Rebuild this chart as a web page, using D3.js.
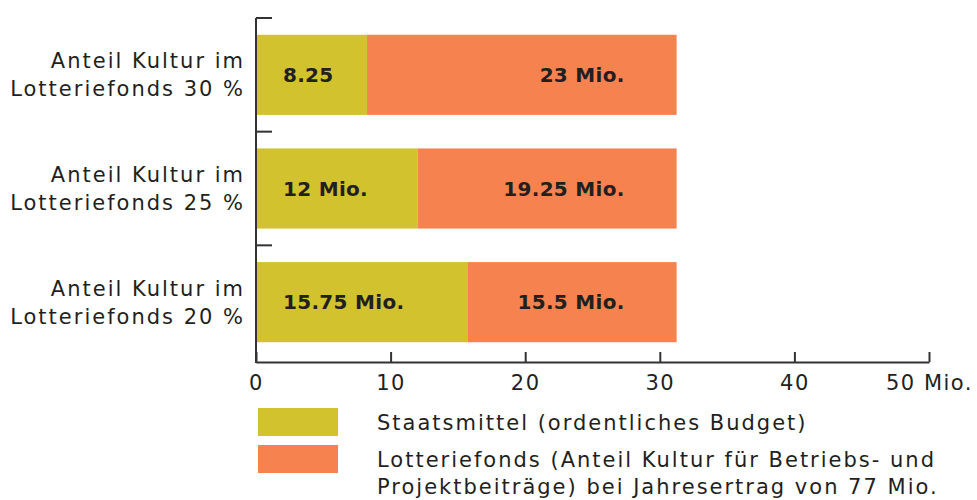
<!DOCTYPE html>
<html>
<head>
<meta charset="utf-8">
<script src="https://cdn.jsdelivr.net/npm/d3@7"></script>
<style>
	body { margin: 0; background: #fff; }
	svg text { font-family: "DejaVu Sans", sans-serif; }
</style>
</head>
<body>
<svg id="chart" width="977" height="500"></svg>
<script>
// categories, top to bottom
var categories = [
	["Anteil Kultur im", "Lotteriefonds 30 %"],
	["Anteil Kultur im", "Lotteriefonds 25 %"],
	["Anteil Kultur im", "Lotteriefonds 20 %"]
];
var staatsmittel = [8.25, 12, 15.75];
var lotteriefonds = [23, 19.25, 15.5];
var staatLabels = ["8.25", "12 Mio.", "15.75 Mio."];
var lotterieLabels = ["23 Mio.", "19.25 Mio.", "15.5 Mio."];
var xTicks = [0, 10, 20, 30, 40, 50];
var legendLabels = [
	["Staatsmittel (ordentliches Budget)"],
	["Lotteriefonds (Anteil Kultur für Betriebs- und", "Projektbeiträge) bei Jahresertrag von 77 Mio."]
];

var colYellow = "#d1c22e";
var colOrange = "#f5824f";
var axisCol = "#333";
var textCol = "#231f20";

var svg = d3.select("#chart");

var x = d3.scaleLinear().domain([0, 50]).range([256, 929]);
var y = d3.scaleBand().domain(d3.range(categories.length)).range([18, 359]).paddingInner(0.295).paddingOuter(0.1475);

// bars
var rows = svg.append("g").selectAll("g")
	.data(d3.range(categories.length))
	.enter().append("g");

rows.append("rect")
	.attr("x", x(0))
	.attr("y", function(i) { return y(i); })
	.attr("width", function(i) { return x(staatsmittel[i]) - x(0); })
	.attr("height", y.bandwidth())
	.attr("fill", colYellow);

rows.append("rect")
	.attr("x", function(i) { return x(staatsmittel[i]); })
	.attr("y", function(i) { return y(i); })
	.attr("width", function(i) { return x(staatsmittel[i] + lotteriefonds[i]) - x(staatsmittel[i]); })
	.attr("height", y.bandwidth())
	.attr("fill", colOrange);

rows.append("text")
	.attr("x", x(0) + 27)
	.attr("y", function(i) { return y(i) + y.bandwidth() / 2; })
	.attr("dy", "0.36em")
	.attr("font-size", 20)
	.attr("letter-spacing", 0.3)
	.attr("font-weight", "bold")
	.attr("fill", textCol)
	.text(function(i) { return staatLabels[i]; });

rows.append("text")
	.attr("x", function(i) { return x(staatsmittel[i] + lotteriefonds[i]) - 52; })
	.attr("y", function(i) { return y(i) + y.bandwidth() / 2; })
	.attr("dy", "0.36em")
	.attr("text-anchor", "end")
	.attr("font-size", 20)
	.attr("letter-spacing", 0.3)
	.attr("font-weight", "bold")
	.attr("fill", textCol)
	.text(function(i) { return lotterieLabels[i]; });

// category labels
rows.append("text")
	.attr("text-anchor", "end")
	.attr("font-size", 21)
	.attr("letter-spacing", 2)
	.attr("fill", textCol)
	.attr("transform", function(i) { return "translate(243," + (y(i) + y.bandwidth() / 2) + ")"; })
	.selectAll("tspan")
	.data(function(i) { return categories[i]; })
	.enter().append("tspan")
	.attr("x", 2)
	.attr("y", function(d, j) { return j * 28 - 14; })
	.attr("dy", "0.36em")
	.text(function(d) { return d; });

// y axis with ticks at band boundaries
var yAxis = svg.append("g");
yAxis.append("line")
	.attr("x1", x(0)).attr("x2", x(0))
	.attr("y1", 18).attr("y2", 363)
	.attr("stroke", axisCol).attr("stroke-width", 2);
yAxis.selectAll(".ytick")
	.data(d3.range(categories.length))
	.enter().append("line")
	.attr("x1", x(0)).attr("x2", x(0) + 16)
	.attr("y1", function(i) { return y(i) - y.step() * y.paddingInner() / 2; })
	.attr("y2", function(i) { return y(i) - y.step() * y.paddingInner() / 2; })
	.attr("stroke", axisCol).attr("stroke-width", 2);

// x axis
var xAxis = d3.axisBottom(x)
	.tickValues(xTicks)
	.tickSize(-10)
	.tickSizeOuter(0)
	.tickFormat(function(d) { return d == 50 ? "50 Mio." : d; });

var gx = svg.append("g")
	.attr("transform", "translate(0,362)")
	.call(xAxis);
gx.select(".domain").attr("stroke", axisCol).attr("stroke-width", 2);
gx.selectAll(".tick line").attr("stroke", axisCol).attr("stroke-width", 2);
gx.selectAll(".tick text")
	.attr("y", 13)
	.attr("font-size", 21)
	.attr("letter-spacing", 1.5)
	.attr("font-family", "DejaVu Sans, sans-serif")
	.attr("fill", textCol);

// legend
var legendColors = [colYellow, colOrange];
var lg = svg.append("g").selectAll("g")
	.data(legendLabels)
	.enter().append("g")
	.attr("transform", function(d, i) { return "translate(258," + (408 + i * 37) + ")"; });
lg.append("rect")
	.attr("width", 80).attr("height", 28)
	.attr("fill", function(d, i) { return legendColors[i]; });
lg.append("text")
	.attr("font-size", 21)
	.attr("letter-spacing", 2)
	.attr("fill", textCol)
	.selectAll("tspan")
	.data(function(d) { return d; })
	.enter().append("tspan")
	.attr("x", 119)
	.attr("y", function(d, j) { return 14 + j * 27; })
	.attr("dy", "0.36em")
	.text(function(d) { return d; });
</script>
</body>
</html>
